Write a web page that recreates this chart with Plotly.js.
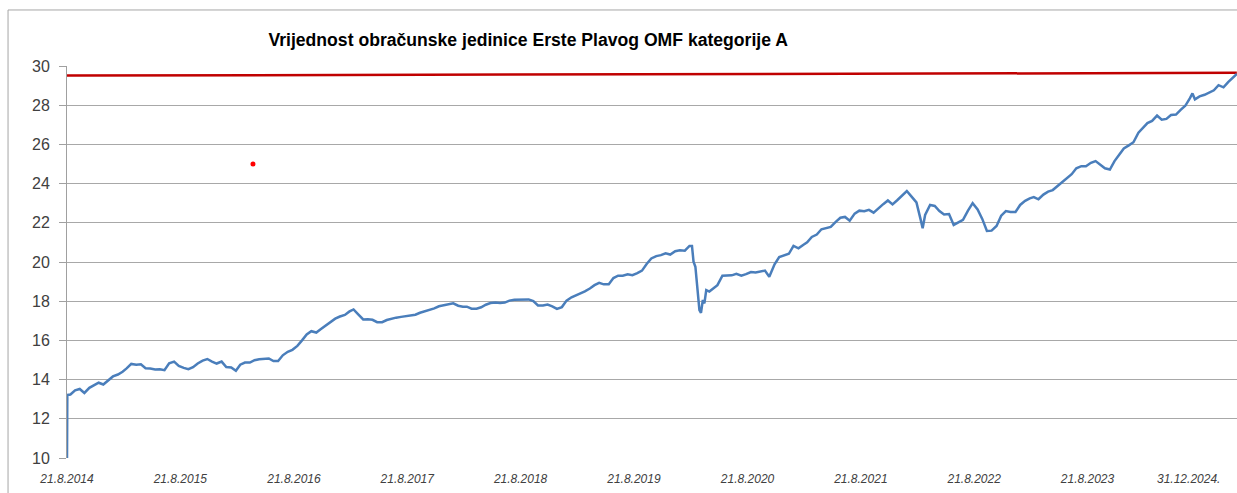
<!DOCTYPE html>
<html>
<head>
<meta charset="utf-8">
<script src="https://cdn.plot.ly/plotly-3.0.1.min.js"></script>
<style>html,body{margin:0;padding:0;background:#fff;}#chart{width:1237px;height:493px;}</style>
</head>
<body>
<div id="chart"></div>
<script>
const chartTitle = "Vrijednost obračunske jedinice Erste Plavog OMF kategorije A";

const dates = [
"2014-08-21","2014-08-22","2014-09-01","2014-09-16","2014-10-01","2014-10-16","2014-11-01","2014-11-16","2014-12-01","2014-12-16",
"2015-01-01","2015-01-16","2015-02-01","2015-02-16","2015-03-01","2015-03-16","2015-04-01","2015-04-16","2015-05-01","2015-05-16","2015-06-01","2015-06-16",
"2015-07-01","2015-07-16","2015-08-01","2015-08-16","2015-09-01","2015-09-16","2015-10-01","2015-10-16","2015-11-01","2015-11-16","2015-12-01","2015-12-16",
"2016-01-01","2016-01-16","2016-02-01","2016-02-16","2016-03-01","2016-03-16","2016-04-01","2016-04-16","2016-05-01","2016-05-16","2016-06-01","2016-06-16",
"2016-07-01","2016-07-16","2016-08-01","2016-08-16","2016-09-01","2016-09-16","2016-10-01","2016-10-16","2016-11-01","2016-11-16","2016-12-01","2016-12-16",
"2017-01-01","2017-01-16","2017-02-01","2017-02-16","2017-03-01","2017-03-16","2017-04-01","2017-04-16","2017-05-01","2017-05-16","2017-06-01","2017-06-16",
"2017-07-01","2017-07-16","2017-08-01","2017-08-16","2017-09-01","2017-09-16","2017-10-01","2017-10-16","2017-11-01","2017-11-16","2017-12-01","2017-12-16",
"2018-01-01","2018-01-16","2018-02-01","2018-02-16","2018-03-01","2018-03-16","2018-04-01","2018-04-16","2018-05-01","2018-05-16","2018-06-01","2018-06-16",
"2018-07-01","2018-07-16","2018-08-01","2018-08-16","2018-09-01","2018-09-16","2018-10-01","2018-10-16","2018-11-01","2018-11-16","2018-12-01","2018-12-16",
"2019-01-01","2019-01-16","2019-02-01","2019-02-16","2019-03-01","2019-03-16","2019-04-01","2019-04-16","2019-05-01","2019-05-16","2019-06-01","2019-06-16",
"2019-07-01","2019-07-16","2019-08-01","2019-08-16","2019-09-01","2019-09-16","2019-10-01","2019-10-16","2019-11-01","2019-11-16","2019-12-01","2019-12-16",
"2020-01-01","2020-01-16","2020-02-01","2020-02-16","2020-02-24","2020-02-29","2020-03-06","2020-03-11","2020-03-14","2020-03-19","2020-03-24","2020-03-30",
"2020-04-04","2020-04-10","2020-04-20","2020-05-01","2020-05-16","2020-06-01","2020-06-16","2020-07-01","2020-07-16","2020-08-01","2020-08-16","2020-09-01",
"2020-09-16","2020-10-01","2020-10-16","2020-10-30","2020-11-16","2020-12-01","2020-12-16",
"2021-01-01","2021-01-16","2021-02-01","2021-02-16","2021-03-01","2021-03-16","2021-04-01","2021-04-16","2021-05-01","2021-05-16","2021-06-01","2021-06-16",
"2021-07-01","2021-07-16","2021-08-01","2021-08-16","2021-09-01","2021-09-16","2021-10-01","2021-10-16","2021-11-01","2021-11-16","2021-12-01","2021-12-16",
"2022-01-01","2022-01-16","2022-02-01","2022-02-16","2022-03-01","2022-03-08","2022-03-16","2022-04-01","2022-04-16","2022-05-01","2022-05-16","2022-06-01",
"2022-06-16","2022-07-01","2022-07-16","2022-08-01","2022-08-16","2022-09-01","2022-09-16","2022-10-01","2022-10-16","2022-11-01","2022-11-16","2022-12-01","2022-12-16",
"2023-01-01","2023-01-16","2023-02-01","2023-02-16","2023-03-01","2023-03-16","2023-04-01","2023-04-16","2023-05-01","2023-05-16","2023-06-01","2023-06-16",
"2023-07-01","2023-07-16","2023-08-01","2023-08-16","2023-09-01","2023-09-16","2023-10-01","2023-10-16","2023-11-01","2023-11-16","2023-12-01","2023-12-16",
"2024-01-01","2024-01-16","2024-02-01","2024-02-16","2024-03-01","2024-03-16","2024-04-01","2024-04-16","2024-05-01","2024-05-16","2024-06-01","2024-06-16",
"2024-07-01","2024-07-16","2024-07-24","2024-08-01","2024-08-16","2024-09-01","2024-09-16","2024-10-01","2024-10-16","2024-11-01","2024-11-16","2024-12-01","2024-12-14"
];

const unitValues = [
10.00,13.21,13.24,13.45,13.52,13.32,13.58,13.70,13.84,13.75,
13.95,14.16,14.26,14.40,14.57,14.80,14.76,14.78,14.58,14.57,14.52,14.53,
14.48,14.83,14.92,14.70,14.60,14.53,14.63,14.82,14.97,15.05,14.92,14.82,
14.92,14.64,14.62,14.45,14.76,14.87,14.87,14.99,15.04,15.05,15.08,14.95,
14.95,15.24,15.42,15.52,15.72,16.00,16.30,16.47,16.40,16.58,16.75,16.92,
17.11,17.22,17.30,17.48,17.58,17.33,17.07,17.08,17.05,16.93,16.93,17.04,
17.11,17.16,17.20,17.24,17.25,17.31,17.41,17.47,17.54,17.63,17.74,17.78,
17.84,17.89,17.77,17.72,17.72,17.62,17.62,17.69,17.82,17.91,17.93,17.91,
17.93,18.03,18.07,18.07,18.08,18.09,18.00,17.78,17.78,17.83,17.74,17.61,
17.70,18.03,18.20,18.30,18.40,18.50,18.65,18.82,18.94,18.86,18.87,19.18,
19.30,19.30,19.37,19.33,19.43,19.56,19.90,20.18,20.30,20.35,20.44,20.38,
20.55,20.60,20.58,20.82,20.82,20.02,19.76,18.91,18.15,17.55,17.41,18.06,
17.89,18.57,18.49,18.65,18.82,19.30,19.30,19.32,19.40,19.30,19.38,19.49,
19.47,19.50,19.56,19.25,19.88,20.25,20.35,
20.42,20.82,20.70,20.87,21.00,21.28,21.40,21.67,21.72,21.79,22.05,22.26,
22.30,22.11,22.47,22.62,22.59,22.66,22.52,22.75,22.95,23.14,22.94,23.15,
23.42,23.62,23.32,23.04,22.20,21.72,22.40,22.91,22.86,22.60,22.42,22.45,
21.89,22.00,22.15,22.62,23.00,22.68,22.20,21.58,21.60,21.84,22.36,22.60,22.55,
22.55,22.91,23.12,23.25,23.31,23.20,23.44,23.59,23.67,23.86,24.07,24.30,
24.48,24.78,24.89,24.88,25.06,25.15,24.96,24.78,24.72,25.15,25.47,25.79,
25.95,26.11,26.60,26.84,27.09,27.20,27.47,27.26,27.30,27.50,27.52,27.76,
27.97,28.36,28.60,28.30,28.45,28.53,28.65,28.76,29.02,28.91,29.18,29.40,29.59
];

const refLineDates = ["2014-08-21", "2024-12-14"];
const refLineValues = [29.51, 29.65];

const dotDates = ["2016-04-11"];
const dotValues = [25.0];

const tickDates = ["2014-08-21","2015-08-21","2016-08-21","2017-08-21","2018-08-21","2019-08-21","2020-08-21","2021-08-21","2022-08-21","2023-08-21","2024-07-12"];
const tickLabels = ["21.8.2014","21.8.2015","21.8.2016","21.8.2017","21.8.2018","21.8.2019","21.8.2020","21.8.2021","21.8.2022","21.8.2023","31.12.2024."];
const yTicks = [10,12,14,16,18,20,22,24,26,28,30];

const traces = [
  {x: refLineDates, y: refLineValues, type: "scatter", mode: "lines",
   line: {color: "#c00000", width: 2.5}, hoverinfo: "skip", showlegend: false},
  {x: dates, y: unitValues, type: "scatter", mode: "lines",
   line: {color: "#4a7ebb", width: 2.5}, showlegend: false},
  {x: dotDates, y: dotValues, type: "scatter", mode: "markers",
   marker: {color: "#ff0000", size: 5}, showlegend: false}
];

const layout = {
  width: 1237, height: 493,
  margin: {l: 67, r: 0, t: 66, b: 35},
  paper_bgcolor: "#ffffff", plot_bgcolor: "#ffffff",
  showlegend: false,
  title: {
    text: "<b>" + chartTitle + "</b>",
    font: {family: "Liberation Sans, Arial, sans-serif", size: 17.6, color: "#000000"},
    xref: "container", yref: "container", x: 0.427, xanchor: "center", y: 0.919, yanchor: "middle"
  },
  xaxis: {
    type: "date",
    range: ["2014-08-21", "2024-12-14 12:00"],
    tickmode: "array", tickvals: tickDates, ticktext: tickLabels,
    ticks: "", showgrid: false, zeroline: false, showline: false,
    tickfont: {family: "Liberation Sans, Arial, sans-serif", size: 12, color: "#404040", style: "italic"},
    ticklabelstandoff: 12
  },
  yaxis: {
    range: [10, 30], tickmode: "array", tickvals: yTicks,
    ticks: "outside", ticklen: 7, tickcolor: "#a0a0a0", tickwidth: 1,
    showgrid: true, gridcolor: "#a8a8a8", gridwidth: 1,
    zeroline: false, showline: true, linecolor: "#a0a0a0", linewidth: 1,
    tickfont: {family: "Liberation Sans, Arial, sans-serif", size: 16, color: "#404040"},
    ticklabelstandoff: 6
  },
  shapes: [
    {type: "rect", xref: "paper", yref: "paper", x0: -0.0504, x1: 1.05, y0: -0.3, y1: 1.1429,
     line: {color: "#a6a6a6", width: 1}, fillcolor: "rgba(0,0,0,0)", layer: "below"}
  ]
};

Plotly.newPlot("chart", traces, layout, {displayModeBar: false, staticPlot: true});
</script>
</body>
</html>
